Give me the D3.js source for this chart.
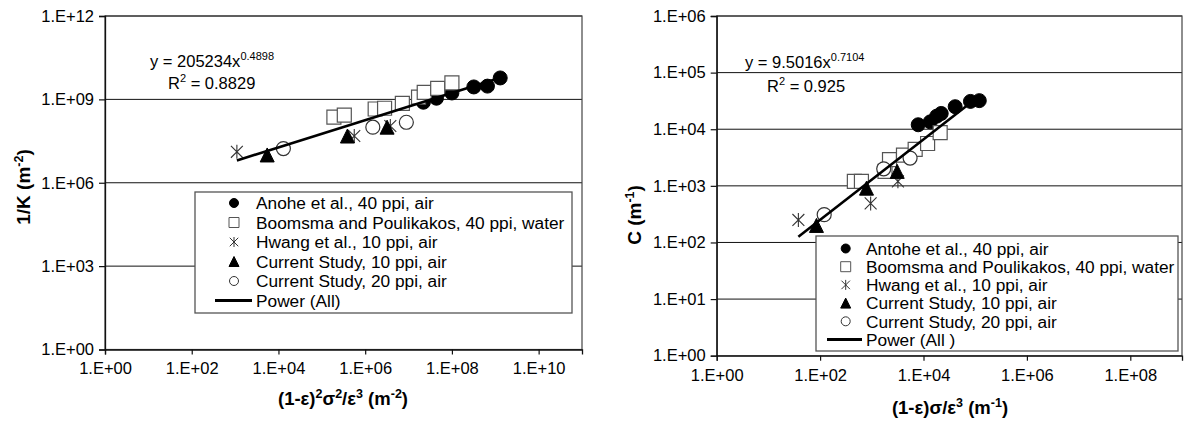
<!DOCTYPE html>
<html>
<head>
<meta charset="utf-8">
<script src="https://cdn.jsdelivr.net/npm/d3@7"></script>
<style>
	body { margin: 0; background: #fff; }
	text { font-family: "Liberation Sans", Arial, sans-serif; fill: #000; }
</style>
</head>
<body>
<svg id="graph"></svg>
<script>
var width = 1191, height = 421;

// ---- left chart: 1/K against (1-e)^2 s^2 / e^3
var kAntoheX = [2.2e7, 4.4e7, 1.0e8, 3.2e8, 6.6e8, 1.3e9];
var kAntoheY = [7.9e8, 1.1e9, 1.7e9, 2.8e9, 3.0e9, 5.9e9];
var kBoomsmaX = [1.9e5, 3.3e5, 1.7e6, 2.8e6, 7.2e6, 1.7e7, 2.3e7, 4.7e7, 1.0e8];
var kBoomsmaY = [2.3e8, 2.7e8, 4.5e8, 4.8e8, 7.2e8, 1.2e9, 1.8e9, 2.5e9, 3.9e9];
var kHwangX = [1.1e3, 5.6e5, 3.8e6];
var kHwangY = [1.3e7, 4.8e7, 1.1e8];
var kStudy10X = [5.5e3, 3.9e5, 3.2e6];
var kStudy10Y = [1.0e7, 4.8e7, 1.0e8];
var kStudy20X = [1.3e4, 1.5e6, 8.9e6];
var kStudy20Y = [1.7e7, 1.0e8, 1.5e8];
var kFit = [205234, 0.4898];
var kR2 = "0.8829";
var kXTicks = [1e0, 1e2, 1e4, 1e6, 1e8, 1e10];
var kYTicks = [1e0, 1e3, 1e6, 1e9, 1e12];
var kLegend = ["Anohe et al., 40 ppi, air", "Boomsma and Poulikakos, 40 ppi, water",
	"Hwang et al., 10 ppi, air", "Current Study, 10 ppi, air", "Current Study, 20 ppi, air", "Power (All)"];

// ---- right chart: C against (1-e) s / e^3
var cAntoheX = [7.9e3, 1.35e4, 1.8e4, 2.2e4, 4.1e4, 8.1e4, 1.2e5];
var cAntoheY = [1.2e4, 1.35e4, 1.7e4, 1.9e4, 2.5e4, 3.1e4, 3.2e4];
var cBoomsmaX = [460, 630, 1.8e3, 2.2e3, 4.1e3, 6.9e3, 1.2e4, 2.1e4];
var cBoomsmaY = [1.2e3, 1.2e3, 1.8e3, 2.9e3, 3.5e3, 4.4e3, 5.6e3, 8.7e3];
var cHwangX = [38, 950, 3.2e3];
var cHwangY = [250, 490, 1.2e3];
var cStudy10X = [85, 790, 3.1e3];
var cStudy10Y = [200, 910, 1.8e3];
var cStudy20X = [120, 1.7e3, 5.5e3];
var cStudy20Y = [310, 2.0e3, 3.1e3];
var cFit = [9.5016, 0.7104];
var cR2 = "0.925";
var cXTicks = [1e0, 1e2, 1e4, 1e6, 1e8];
var cYTicks = [1e0, 1e1, 1e2, 1e3, 1e4, 1e5, 1e6];
var cLegend = ["Antohe et al., 40 ppi, air", "Boomsma and Poulikakos, 40 ppi, water",
	"Hwang et al., 10 ppi, air", "Current Study, 10 ppi, air", "Current Study, 20 ppi, air", "Power (All )"];

var svg = d3.select("#graph")
	.attr("width", width)
	.attr("height", height);

function fmtExp(d) {
	var e = Math.round(Math.log10(d));
	return "1.E+" + (e < 10 ? "0" : "") + e;
}

// marker paths, s = half size
function markerPath(kind, s) {
	switch (kind) {
		case "circle":
			return d3.symbol().type(d3.symbolCircle).size(Math.PI * s * s)();
		case "square":
			return "M" + (-s) + "," + (-s) + "h" + 2 * s + "v" + 2 * s + "h" + (-2 * s) + "Z";
		case "triangle":
			return "M0," + (-s) + "L" + s + "," + s + "L" + (-s) + "," + s + "Z";
		case "star":
			var t = s * 0.85;
			return "M" + (-t) + "," + (-t) + "L" + t + "," + t + "M" + (-t) + "," + t + "L" + t + "," + (-t) +
				"M0," + (-s) + "L0," + s;
	}
}
var markerStyle = {
	circleFill: { kind: "circle", fill: "#000", stroke: "#000", sw: 1 },
	square: { kind: "square", fill: "#fff", stroke: "#555", sw: 1.2 },
	star: { kind: "star", fill: "none", stroke: "#333", sw: 1.1 },
	triangle: { kind: "triangle", fill: "#000", stroke: "#000", sw: 1 },
	circleOpen: { kind: "circle", fill: "#fff", stroke: "#333", sw: 1.2 }
};

// text with superscripts: parts = [[text, isSup], ...]
function richText(sel, parts, supSize, rise) {
	parts.forEach(function (p, i) {
		var prevSup = i > 0 && parts[i - 1][1];
		var ts = sel.append("tspan").text(p[0]);
		if (p[1]) ts.attr("font-size", supSize).attr("dy", prevSup ? 0 : -rise);
		else if (prevSup) ts.attr("dy", rise);
	});
	return sel;
}

function drawPanel(cfg) {
	var g = svg.append("g");
	var x = d3.scaleLog().domain(cfg.xDomain).range([cfg.left, cfg.right]);
	var y = d3.scaleLog().domain(cfg.yDomain).range([cfg.bottom, cfg.top]);

	// grid lines
	g.selectAll(".grid")
		.data(cfg.yTicks.filter(function (d) { return d > cfg.yDomain[0]; }))
		.enter()
		.append("line")
		.attr("x1", cfg.left).attr("x2", cfg.right)
		.attr("y1", function (d) { return y(d); }).attr("y2", function (d) { return y(d); })
		.attr("stroke", "#111").attr("stroke-width", 1);

	// frame
	g.append("rect")
		.attr("x", cfg.left).attr("y", cfg.top)
		.attr("width", cfg.right - cfg.left).attr("height", cfg.bottom - cfg.top)
		.attr("fill", "none").attr("stroke", "#444").attr("stroke-width", 1.2);

	// axes
	var xAxis = d3.axisBottom(x).tickValues(cfg.xTicks).tickFormat(fmtExp).tickSize(5).tickPadding(cfg.xPad);
	var yAxis = d3.axisLeft(y).tickValues(cfg.yTicks).tickFormat(fmtExp).tickSize(6).tickPadding(5);
	var gx = g.append("g").attr("transform", "translate(0," + cfg.bottom + ")").call(xAxis);
	var gy = g.append("g").attr("transform", "translate(" + cfg.left + ",0)").call(yAxis);
	[gx, gy].forEach(function (a) {
		a.select(".domain").attr("stroke", "#111").attr("stroke-width", 1.3);
		a.selectAll(".tick line").attr("stroke", "#111").attr("stroke-width", 1.2);
		a.selectAll("text").attr("font-size", 16.5).attr("fill", "#000")
			.attr("font-family", "Liberation Sans, Arial, sans-serif");
	});

	// series
	cfg.series.forEach(function (s) {
		var st = markerStyle[s.style];
		g.selectAll(null)
			.data(s.x.map(function (v, i) { return [v, s.y[i]]; }))
			.enter()
			.append("path")
			.attr("transform", function (d) { return "translate(" + x(d[0]) + "," + y(d[1]) + ")"; })
			.attr("d", markerPath(st.kind, 7))
			.attr("fill", st.fill)
			.attr("stroke", st.stroke)
			.attr("stroke-width", st.sw);
	});

	// power trend line across all points
	var allX = [];
	cfg.series.forEach(function (s) { allX = allX.concat(s.x); });
	var ext = d3.extent(allX);
	var fitPts = ext.map(function (v) { return [v, cfg.fit[0] * Math.pow(v, cfg.fit[1])]; });
	g.append("path")
		.attr("d", d3.line().x(function (d) { return x(d[0]); }).y(function (d) { return y(d[1]); })(fitPts))
		.attr("fill", "none").attr("stroke", "#000").attr("stroke-width", 2.6);

	// equation
	var eq = g.append("text").attr("x", cfg.eqX).attr("y", cfg.eqY).attr("font-size", 16.5);
	richText(eq, [["y = " + cfg.fit[0] + "x", false], [String(cfg.fit[1]), true]], 11, 7);
	var r2 = g.append("text").attr("x", cfg.r2X).attr("y", cfg.r2Y).attr("font-size", 16.5);
	richText(r2, [["R", false], ["2", true], [" = " + cfg.r2, false]], 11, 7);

	// legend
	var lg = g.append("g");
	lg.append("rect")
		.attr("x", cfg.legX).attr("y", cfg.legY)
		.attr("width", cfg.legW).attr("height", cfg.legH)
		.attr("fill", "#fff").attr("stroke", "#555").attr("stroke-width", 1.3);
	cfg.legend.forEach(function (name, i) {
		var cy = cfg.legY + cfg.legRow0 + i * cfg.legStep;
		if (i < cfg.series.length) {
			var st = markerStyle[cfg.series[i].style];
			lg.append("path")
				.attr("transform", "translate(" + cfg.legMarkX + "," + cy + ")")
				.attr("d", markerPath(st.kind, st.kind == "circle" ? 4.5 : 5))
				.attr("fill", st.fill).attr("stroke", st.stroke).attr("stroke-width", 1);
		} else {
			lg.append("line")
				.attr("x1", cfg.legLineX[0]).attr("x2", cfg.legLineX[1])
				.attr("y1", cy).attr("y2", cy)
				.attr("stroke", "#000").attr("stroke-width", 3);
		}
		lg.append("text")
			.attr("x", cfg.legTextX).attr("y", cy)
			.attr("dy", "0.36em")
			.attr("font-size", 17.3)
			.text(name);
	});

	// axis titles
	var xt = g.append("text")
		.attr("x", cfg.xTitle[0]).attr("y", cfg.xTitle[1])
		.attr("text-anchor", "middle").attr("font-size", 18.5).attr("font-weight", "bold");
	richText(xt, cfg.xTitleParts, 12.5, 7.5);
	var yt = g.append("text")
		.attr("transform", "translate(" + cfg.yTitle[0] + "," + cfg.yTitle[1] + ") rotate(-90)")
		.attr("text-anchor", "middle").attr("font-size", 19).attr("font-weight", "bold");
	richText(yt, cfg.yTitleParts, 12.5, 7.5);
}

drawPanel({
	left: 105, right: 582, top: 16, bottom: 349.5,
	xDomain: [1e0, 1e11], yDomain: [1e0, 1e12],
	xTicks: kXTicks, yTicks: kYTicks, xPad: 8,
	series: [
		{ x: kAntoheX, y: kAntoheY, style: "circleFill" },
		{ x: kBoomsmaX, y: kBoomsmaY, style: "square" },
		{ x: kHwangX, y: kHwangY, style: "star" },
		{ x: kStudy10X, y: kStudy10Y, style: "triangle" },
		{ x: kStudy20X, y: kStudy20Y, style: "circleOpen" }
	],
	fit: kFit, r2: kR2,
	eqX: 150, eqY: 67, r2X: 168, r2Y: 89,
	legend: kLegend,
	legX: 195, legY: 192, legW: 377, legH: 121,
	legRow0: 11, legStep: 19.5, legMarkX: 234, legTextX: 256, legLineX: [215, 252],
	xTitle: [343, 405],
	xTitleParts: [["(1-ε)", false], ["2", true], ["σ", false], ["2", true], ["/ε", false], ["3", true], [" (m", false], ["-2", true], [")", false]],
	yTitle: [30, 187],
	yTitleParts: [["1/K (m", false], ["-2", true], [")", false]]
});

drawPanel({
	left: 716.7, right: 1182, top: 16, bottom: 355.7,
	xDomain: [1e0, 1e9], yDomain: [1e0, 1e6],
	xTicks: cXTicks, yTicks: cYTicks, xPad: 9,
	series: [
		{ x: cAntoheX, y: cAntoheY, style: "circleFill" },
		{ x: cBoomsmaX, y: cBoomsmaY, style: "square" },
		{ x: cHwangX, y: cHwangY, style: "star" },
		{ x: cStudy10X, y: cStudy10Y, style: "triangle" },
		{ x: cStudy20X, y: cStudy20Y, style: "circleOpen" }
	],
	fit: cFit, r2: cR2,
	eqX: 745, eqY: 68, r2X: 767, r2Y: 92,
	legend: cLegend,
	legX: 816, legY: 236, legW: 362, legH: 115,
	legRow0: 12.5, legStep: 18.2, legMarkX: 845.7, legTextX: 866, legLineX: [827, 862],
	xTitle: [950, 414],
	xTitleParts: [["(1-ε)σ/ε", false], ["3", true], [" (m", false], ["-1", true], [")", false]],
	yTitle: [641, 215],
	yTitleParts: [["C (m", false], ["-1", true], [")", false]]
});
</script>
</body>
</html>
